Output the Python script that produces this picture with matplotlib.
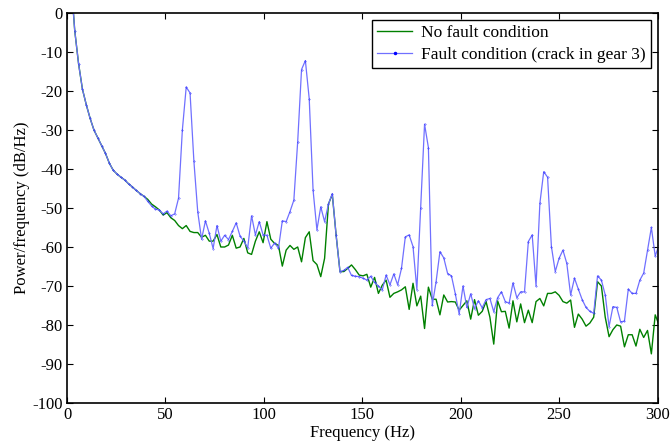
import numpy as np
import matplotlib
matplotlib.use("Agg")
import matplotlib.pyplot as plt
from matplotlib.ticker import FuncFormatter

plt.rcParams['font.family'] = ['Liberation Serif', 'DejaVu Serif']
plt.rcParams['axes.unicode_minus'] = False

# frequency grid (Hz): bin spacing of the PSD estimate
freq_step = 1000 / 512
n_bins = 155
freq = np.arange(n_bins) * freq_step

# No fault condition (dB/Hz)
no_fault = [
    12, 9, -4.5, -13, -19.5, -23.5, -27, -30, -32, -34,
    -36, -38.5, -40.3, -41.3, -42.1, -42.8, -43.8, -44.6, -45.5, -46.3,
    -47, -47.8, -49, -49.7, -50.5, -51.8, -51.2, -52.5, -53.2, -54.5,
    -55.3, -54.5, -56, -56.3, -56.3, -57.5, -57, -58.5, -58.5, -56.8,
    -60, -60, -59.5, -57, -60.3, -60, -57.8, -61.5, -61.9, -58.5,
    -56.1, -58.9, -53.5, -58, -59.1, -59.6, -64.9, -60.8, -59.6, -60.6,
    -60, -63.8, -57.6, -56.1, -63.5, -64.5, -67.6, -62.9, -49, -46.5,
    -57, -66.3, -66.3, -65.5, -64.6, -65.8, -67.2, -67.4, -67, -70.3,
    -67.8, -71.9, -69.8, -68.5, -72.9, -71.9, -71.5, -71, -70.2, -76,
    -69.3, -75.1, -72.6, -80.9, -70.3, -73.4, -73.4, -77.4, -72.3, -74.1,
    -74, -74.1, -76.2, -75, -73.8, -78.5, -73.5, -77.5, -76.5, -74,
    -78, -84.9, -73.8, -76.6, -76.5, -80.8, -73.8, -79.2, -74.6, -79.4,
    -76.2, -79.4, -74, -73.2, -75.1, -71.9, -71.9, -71.5, -72.4, -74,
    -74.4, -73.6, -80.6, -77.2, -78.5, -80.3, -79.5, -78, -68.9, -70,
    -78, -83, -81.2, -80, -80.3, -85.6, -82.5, -82.5, -85.4, -81.1,
    -83.2, -81.4, -87.4, -77.4, -80,
]

# Fault condition, crack in gear 3 (dB/Hz)
fault = [
    12, 9, -4.5, -13, -19.5, -23.5, -27, -30, -32, -34,
    -36, -38.5, -40.3, -41.3, -42.1, -42.8, -43.8, -44.6, -45.5, -46.3,
    -47, -48.3, -49.5, -50.3, -50.5, -51.5, -50.8, -52, -51.5, -47.5,
    -30, -19, -20.5, -38, -51, -58, -53.3, -56.5, -60.4, -54.5,
    -58.5, -57, -58.1, -56, -53.8, -57.2, -58.5, -60.2, -52, -56.9,
    -53.5, -56.9, -57, -60.3, -59, -60.3, -53.3, -53.5, -50.9, -48,
    -33, -14.5, -12.2, -22, -45.4, -55.6, -49.7, -53.5, -49, -46.3,
    -57, -66.3, -66, -65.2, -67.3, -67.5, -67.6, -68, -68.5, -67.5,
    -69.1, -70, -71, -67.2, -69.7, -66.9, -69.7, -65.5, -57.4, -56.9,
    -59.9, -70.9, -50, -28.5, -34.5, -75, -68.9, -61.2, -62.8, -66.8,
    -67.4, -72, -77.2, -70, -75.5, -72, -75.8, -73.8, -75.6, -73.5,
    -73.2, -76.6, -73, -71.5, -74, -74.4, -69.2, -73, -71.5, -71.5,
    -58.6, -56.9, -70, -48.8, -40.7, -42.1, -59.9, -66.3, -62.9, -60.8,
    -64.2, -72.3, -68, -70.8, -73.5, -75.5, -76.5, -77, -67.4, -68.5,
    -72.3, -80.4, -75.3, -75.5, -79.2, -79, -70.8, -71.9, -71.9, -68.5,
    -66.7, -60.8, -55, -62.3, -59.5,
]

x_ticks = [0, 50, 100, 150, 200, 250, 300]
y_ticks = list(range(-100, 1, 10))

fig = plt.figure(figsize=(6.71, 4.45), dpi=100)
ax = fig.add_axes([0.0999, 0.0944, 0.8800, 0.8764])

ax.plot(freq, no_fault, color='#008000', linewidth=1.0, label='No fault condition')
ax.plot(freq, fault, color='#7070ff', linewidth=0.9, marker='.', markersize=0.5,
        markerfacecolor='#0000ff', markeredgecolor='#0000ff',
        label='Fault condition (crack in gear 3)')

ax.set_xlim(0, 300)
ax.set_ylim(-100, 0)
ax.set_xticks(x_ticks)
ax.set_yticks(y_ticks)
ax.yaxis.set_major_formatter(FuncFormatter(lambda v, p: '%d' % v))
ax.xaxis.set_major_formatter(FuncFormatter(lambda v, p: '%d' % v))
ax.tick_params(direction='in', top=True, right=True, length=4, width=0.8,
               labelsize=12, pad=3)
for s in ax.spines.values():
    s.set_linewidth(1.2)

ax.set_xlabel('Frequency (Hz)', fontsize=12, labelpad=1)
ax.set_ylabel('Power/frequency (dB/Hz)', fontsize=12, labelpad=2)

leg = ax.legend(loc='upper right', fontsize=12.5, frameon=True, fancybox=False,
                edgecolor='black', framealpha=1, handlelength=2.0,
                borderpad=0.3, labelspacing=0.3, handletextpad=0.5,
                borderaxespad=0.4, markerscale=6)
leg.get_frame().set_linewidth(1.0)

fig.savefig('out.png', dpi=100)
